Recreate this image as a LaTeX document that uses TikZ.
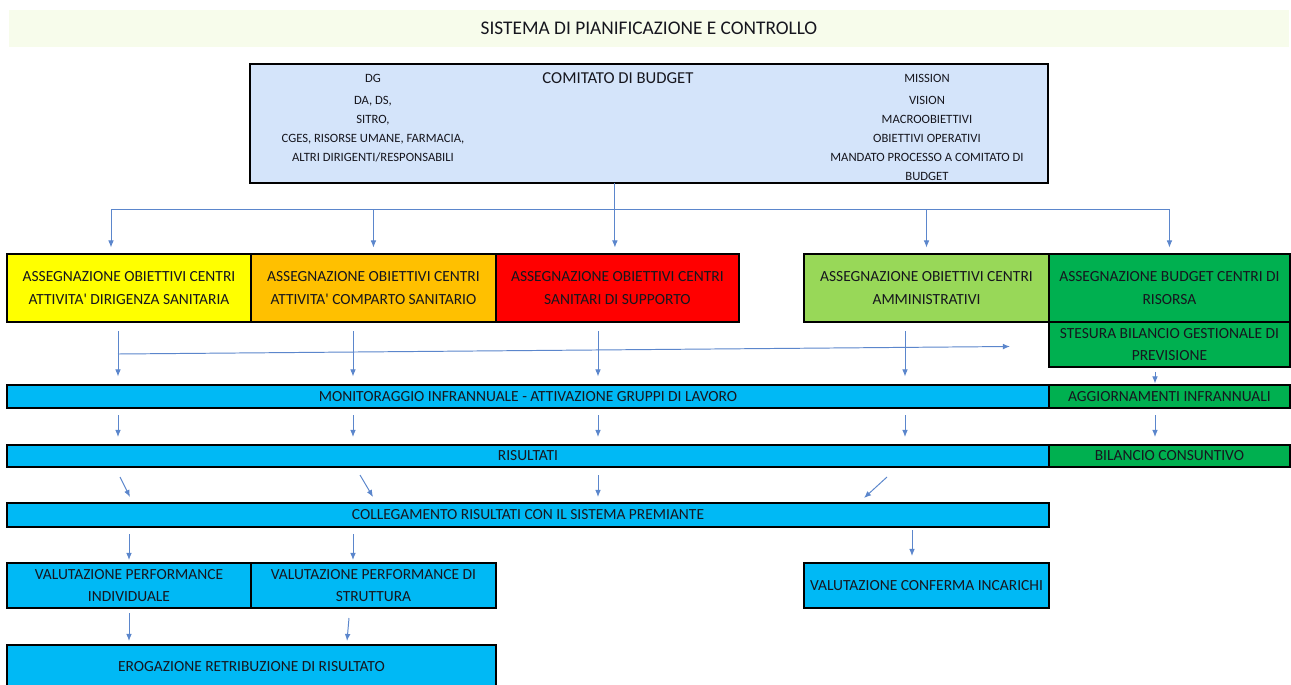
\documentclass[tikz,border=0pt]{standalone}
\usepackage{fontspec}
\setmainfont{Carlito}
\usetikzlibrary{positioning,arrows.meta,calc}
\definecolor{pcband}{HTML}{F7FCEB}
\definecolor{pcsky}{HTML}{D4E4FA}
\definecolor{pccyan}{HTML}{00B9F5}
\definecolor{pcyellow}{HTML}{FFFF00}
\definecolor{pcorange}{HTML}{FFC000}
\definecolor{pcred}{HTML}{FF0000}
\definecolor{pclime}{HTML}{98D858}
\definecolor{pcgreen}{HTML}{00B050}
\definecolor{pcarrow}{HTML}{5B86CC}
\definecolor{pcink}{HTML}{16161E}
\newcommand{\boxfont}{\fontsize{8.8}{13}\selectfont}
\newcommand{\apo}{\textquotesingle}
\tikzset{
    cell/.style={draw=black,line width=0.9pt,outer sep=0pt,inner sep=1pt,align=center,font=\boxfont,text=pcink},
    tall/.style={cell,minimum height=1.36cm},
    half/.style={cell,minimum height=0.9cm},
    strip/.style={cell,fill=pccyan},
    flow/.style={draw=pcarrow,line width=0.55pt,-{Latex[length=4pt,width=3.2pt]}},
    drop/.style={flow,shorten <=0.18cm,shorten >=0.17cm},
}

\begin{document}
\begin{tikzpicture}[x=0.02cm,y=-0.02cm,node distance=0pt]
    \clip (0,0) rectangle (1291,684);
    \fill[white] (0,0) rectangle (1291,684);
    \node[fill=pcband,minimum width=25.6cm,minimum height=0.74cm,font=\fontsize{11}{13}\selectfont,text=pcink] (title) at (649,28.5) {SISTEMA DI PIANIFICAZIONE E CONTROLLO};

    \node[cell,fill=pcsky,minimum width=15.96cm,minimum height=2.38cm] (cdb) at (649,123.5) {};
    \node[font=\fontsize{9.5}{11}\selectfont,text=pcink] (cdbname) at (618,78) {COMITATO DI BUDGET};
    \node[anchor=north,align=center,inner sep=0pt,font=\fontsize{7.2}{10.8}\selectfont,text=pcink] (who) at (373,74)
        {DG\\[1.6pt] DA, DS,\\ SITRO,\\ CGES, RISORSE UMANE, FARMACIA,\\ ALTRI DIRIGENTI/RESPONSABILI};
    \node[anchor=north,align=center,inner sep=0pt,font=\fontsize{7.2}{10.8}\selectfont,text=pcink] (what) at (927,74)
        {MISSION\\[1.6pt] VISION\\ MACROOBIETTIVI\\ OBIETTIVI OPERATIVI\\ MANDATO PROCESSO A COMITATO DI\\ BUDGET};

    \node[tall,fill=pcyellow,minimum width=4.88cm] (ydir) at (129,288) {ASSEGNAZIONE OBIETTIVI CENTRI\\ATTIVITA\apo{} DIRIGENZA SANITARIA};
    \node[tall,fill=pcorange,minimum width=4.9cm,right=of ydir] (ycomp) {ASSEGNAZIONE OBIETTIVI CENTRI\\ATTIVITA\apo{} COMPARTO SANITARIO};
    \node[tall,fill=pcred,minimum width=4.86cm,right=of ycomp] (ysup) {ASSEGNAZIONE OBIETTIVI CENTRI\\SANITARI DI SUPPORTO};
    \node[tall,fill=pclime,minimum width=4.9cm] (yamm) at (926.5,288) {ASSEGNAZIONE OBIETTIVI CENTRI\\AMMINISTRATIVI};
    \node[tall,fill=pcgreen,minimum width=4.82cm,right=of yamm] (ybud) {ASSEGNAZIONE BUDGET CENTRI DI\\RISORSA};
    \node[half,fill=pcgreen,minimum width=4.82cm,below=of ybud] (stes) {STESURA BILANCIO GESTIONALE DI\\PREVISIONE};

    \node[strip,minimum width=20.84cm,minimum height=0.46cm] (mon) at (528,396.5) {MONITORAGGIO INFRANNUALE - ATTIVAZIONE GRUPPI DI LAVORO};
    \node[cell,fill=pcgreen,minimum width=4.82cm,minimum height=0.46cm,right=of mon] (agg) {AGGIORNAMENTI INFRANNUALI};
    \node[strip,minimum width=20.84cm,minimum height=0.44cm] (ris) at (528,456) {RISULTATI};
    \node[cell,fill=pcgreen,minimum width=4.82cm,minimum height=0.44cm,right=of ris] (bil) {BILANCIO CONSUNTIVO};
    \node[strip,minimum width=20.84cm,minimum height=0.48cm] (coll) at (528,515) {COLLEGAMENTO RISULTATI CON IL SISTEMA PREMIANTE};

    \node[half,fill=pccyan,minimum width=4.88cm] (pind) at (129,585.5) {VALUTAZIONE PERFORMANCE\\INDIVIDUALE};
    \node[half,fill=pccyan,minimum width=4.9cm,right=of pind] (pstr) {VALUTAZIONE PERFORMANCE DI\\STRUTTURA};
    \node[half,fill=pccyan,minimum width=4.9cm] (conf) at (926.5,585.5) {VALUTAZIONE CONFERMA INCARICHI};
    \node[strip,minimum width=9.78cm,minimum height=0.88cm] (erog) at (251.5,667) {EROGAZIONE RETRIBUZIONE DI RISULTATO};

    \coordinate (busL) at (111,209);
    \coordinate (busR) at (ybud.north |- busL);
    \coordinate (k1) at (118,0);
    \coordinate (k2) at (353,0);
    \coordinate (k3) at (598,0);
    \coordinate (k4) at (905,0);
    \coordinate (k5) at (1155,0);

    \draw[draw=pcarrow,line width=0.55pt] (busL) -- (busR);
    \draw[flow,shorten >=0.13cm] ([xshift=-0.05cm]ysup.north |- cdb.south) -- ([xshift=-0.05cm]ysup.north);
    \draw[flow,shorten >=0.13cm] (busL) -- (busL |- ydir.north);
    \foreach \n in {ycomp,yamm,ybud}
        \draw[flow,shorten >=0.13cm] (\n.north |- busL) -- (\n.north);

    \foreach \k in {k1,k2,k3,k4}
        \draw[drop] (\k |- ydir.south) -- (\k |- mon.north);
    \draw[flow] ($(k1 |- ydir.south)+(0,32)$) -- ($(stes.west)+(-39,2)$);
    \draw[flow,shorten <=0.1cm,shorten >=0.03cm] (k5 |- stes.south) -- (k5 |- agg.north);

    \foreach \k in {k1,k2,k3,k4,k5}
        \draw[flow,shorten <=0.14cm,shorten >=0.16cm] (\k |- mon.south) -- (\k |- ris.north);

    \draw[flow] ($(k1 |- ris.south)+(2,10)$) -- ($(k1 |- coll.north)+(12,-6)$);
    \draw[flow] ($(k2 |- ris.south)+(7,8)$) -- ($(k2 |- coll.north)+(20,-6)$);
    \draw[flow] ($(k3 |- ris.south)+(0,8)$) -- ($(k3 |- coll.north)+(0,-6)$);
    \draw[flow] ($(k4 |- ris.south)+(-18,10)$) -- ($(k4 |- coll.north)+(-41,-5)$);

    \draw[flow,shorten <=0.14cm,shorten >=0.06cm] (pind.north |- coll.south) -- (pind.north);
    \draw[flow,shorten <=0.14cm,shorten >=0.06cm] (k2 |- coll.south) -- (k2 |- pstr.north);
    \draw[flow,shorten <=0.06cm,shorten >=0.14cm] ([xshift=-0.29cm]conf.north |- coll.south) -- ([xshift=-0.29cm]conf.north);

    \draw[flow,shorten <=0.1cm,shorten >=0.08cm] (pind.south) -- (pind.south |- erog.north);
    \draw[flow] ($(k2 |- pstr.south)+(-4,10)$) -- ($(k2 |- erog.north)+(-6,-4)$);
\end{tikzpicture}
\end{document}
